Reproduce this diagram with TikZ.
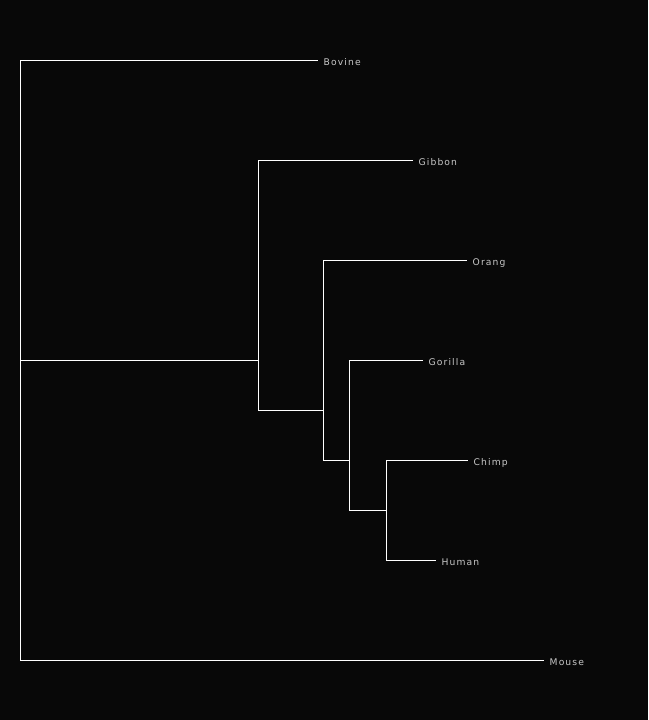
\documentclass[tikz,border=0pt]{standalone}
\usepackage{fontspec}
\setsansfont[LetterSpace=12]{DejaVu Sans}
\usepackage{xcolor}
\definecolor{treebg}{HTML}{080808}
\definecolor{leafgrey}{HTML}{C8C8C8}
\usepackage{tikz}
\usetikzlibrary{positioning}

\begin{document}
\begin{tikzpicture}[
  x=1pt, y=-1pt,
  font=\sffamily\fontsize{9.2}{10}\selectfont,
  branch/.style={draw=white, line width=1pt},
  leaf/.style={text=leafgrey, anchor=west, inner xsep=6pt, inner ysep=0pt, text height=10pt, text depth=0pt},
]
  \fill[treebg] (-0.5,-0.5) rectangle (647.5,719.5);
  \useasboundingbox (-0.5,-0.5) rectangle (647.5,719.5);
  % leaves
  \node[leaf] (bovine)  at (317,60)  {Bovine};
  \node[leaf] (gibbon)  at (412,160) {Gibbon};
  \node[leaf] (orang)   at (466,260) {Orang};
  \node[leaf] (gorilla) at (422,360) {Gorilla};
  \node[leaf] (chimp)   at (467,460) {Chimp};
  \node[leaf] (human)   at (435,560) {Human};
  \node[leaf] (mouse)   at (543,660) {Mouse};
  % internal nodes
  \coordinate (root)  at (20,360);
  \coordinate (apes)  at (258,360);
  \coordinate (great) at (323,410);
  \coordinate (hpg)   at (349,460);
  \coordinate (hc)    at (386,510);
  % branches
  \draw[branch] (bovine.west) -| (root) |- (mouse.west);
  \draw[branch] (root) -- (apes);
  \draw[branch] (gibbon.west) -| (apes) |- (great);
  \draw[branch] (orang.west) -| (great) |- (hpg);
  \draw[branch] (gorilla.west) -| (hpg) |- (hc);
  \draw[branch] (chimp.west) -| (hc) |- (human.west);
\end{tikzpicture}
\end{document}
